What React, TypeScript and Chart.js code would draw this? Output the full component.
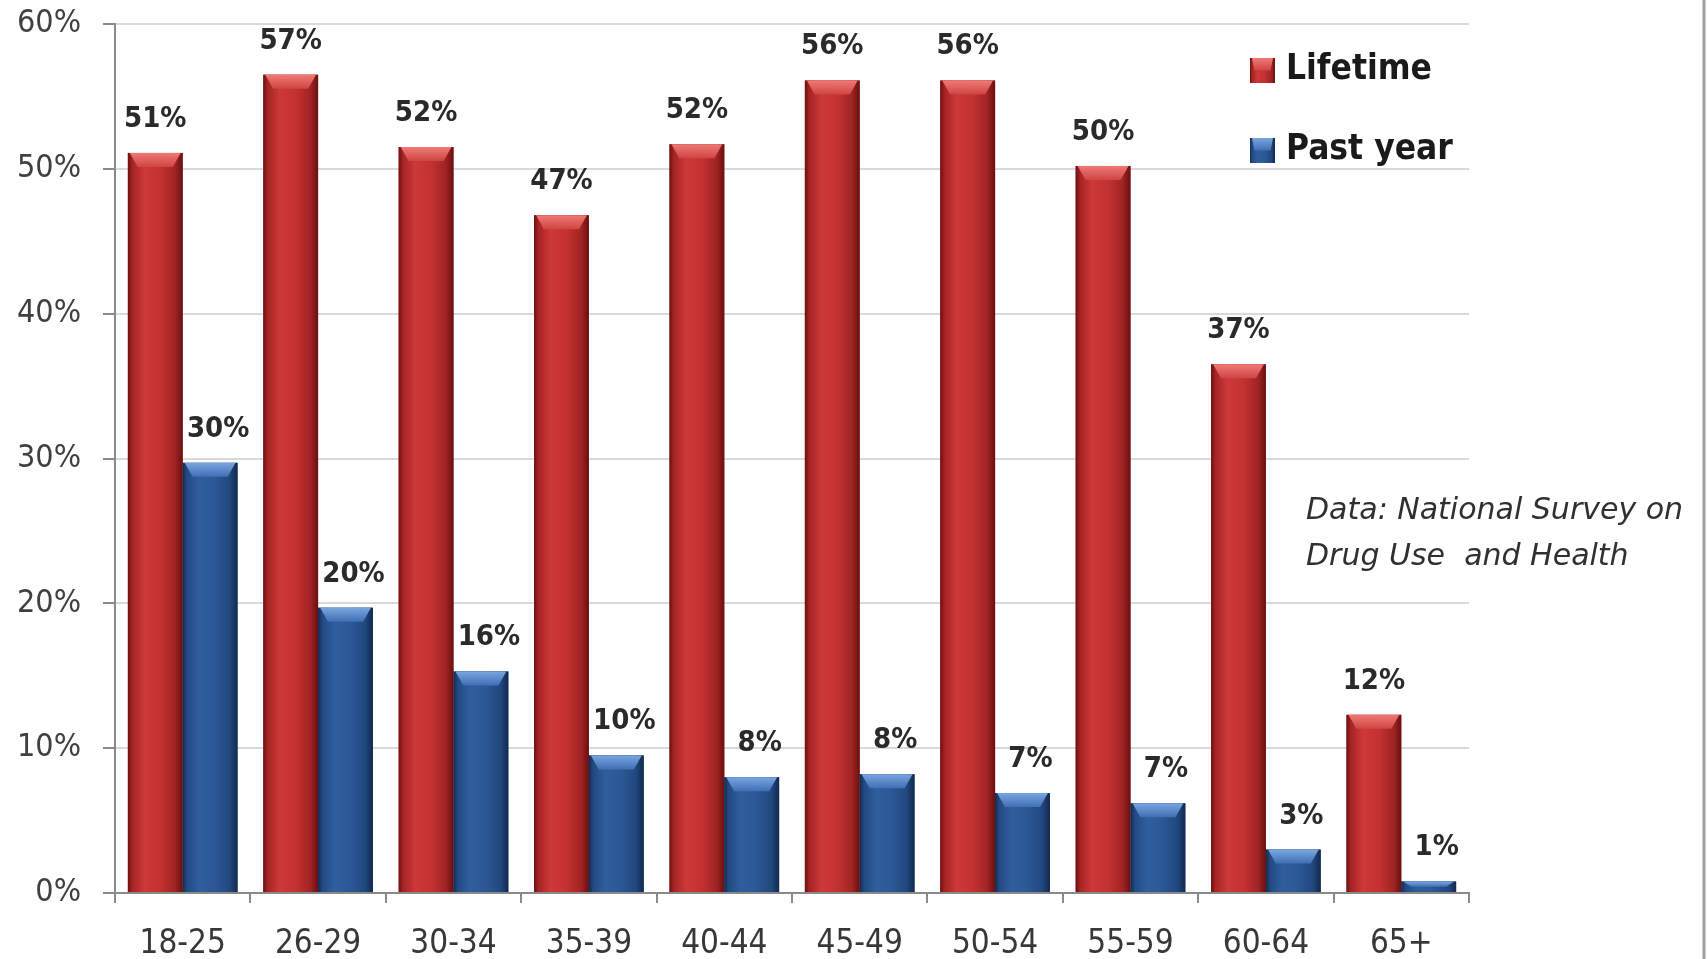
import React, { useEffect, useRef } from "react";
import { Chart, registerables } from "chart.js";

Chart.register(...registerables);

const categories = ["18-25", "26-29", "30-34", "35-39", "40-44", "45-49", "50-54", "55-59", "60-64", "65+"];
const lifetime = [51.1, 56.5, 51.5, 46.8, 51.7, 56.1, 56.1, 50.2, 36.5, 12.3];
const pastYear = [29.7, 19.7, 15.3, 9.5, 8.0, 8.2, 6.9, 6.2, 3.0, 0.8];
const lifetimeLabels = ["51%", "57%", "52%", "47%", "52%", "56%", "56%", "50%", "37%", "12%"];
const pastYearLabels = ["30%", "20%", "16%", "10%", "8%", "8%", "7%", "7%", "3%", "1%"];
const seriesNames = ["Lifetime", "Past year"];
const yTicks = [0, 10, 20, 30, 40, 50, 60];
const noteLines = ["Data: National Survey on", "Drug Use  and Health"];

const FONT = "'DejaVu Sans Condensed', 'DejaVu Sans', sans-serif";

const palettes = [
  {
    base: "#c03030",
    body: [
      [0, "#6a1010"],
      [0.08, "#a52424"],
      [0.3, "#cd3838"],
      [0.6, "#c33131"],
      [0.86, "#a02323"],
      [1, "#681010"],
    ],
    bevelTop: "#ee7a76",
    bevelBottom: "#cf4543",
  },
  {
    base: "#2c5896",
    body: [
      [0, "#132b50"],
      [0.08, "#224a83"],
      [0.3, "#2f5e9e"],
      [0.6, "#2b5795"],
      [0.86, "#21477e"],
      [1, "#12294d"],
    ],
    bevelTop: "#7aa6e0",
    bevelBottom: "#3f70b4",
  },
];

const labelSets = [lifetimeLabels, pastYearLabels];

function paintBar(ctx: CanvasRenderingContext2D, left: number, right: number, top: number, bottom: number, p: any) {
  const w = right - left;
  const g = ctx.createLinearGradient(left, 0, right, 0);
  p.body.forEach((s: any) => g.addColorStop(s[0], s[1]));
  ctx.fillStyle = g;
  ctx.fillRect(left, top, w, bottom - top);
  const bh = Math.min(14, (bottom - top) / 2);
  const inset = Math.min(10, w * 0.18);
  const bg = ctx.createLinearGradient(0, top, 0, top + bh);
  bg.addColorStop(0, p.bevelTop);
  bg.addColorStop(1, p.bevelBottom);
  ctx.fillStyle = bg;
  ctx.beginPath();
  ctx.moveTo(left + 2, top);
  ctx.lineTo(right - 2, top);
  ctx.lineTo(right - inset, top + bh);
  ctx.lineTo(left + inset, top + bh);
  ctx.closePath();
  ctx.fill();
}

const decorPlugin = {
  id: "decor",
  afterDatasetsDraw(chart: any) {
    const ctx: CanvasRenderingContext2D = chart.ctx;
    ctx.save();
    chart.data.datasets.forEach((ds: any, di: number) => {
      const meta = chart.getDatasetMeta(di);
      meta.data.forEach((el: any) => {
        const { x, y, base, width } = el.getProps(["x", "y", "base", "width"], true);
        paintBar(ctx, x - width / 2, x + width / 2, y, base, palettes[di]);
      });
    });
    // value labels
    ctx.fillStyle = "#2a2a2a";
    ctx.font = `bold 29px ${FONT}`;
    ctx.textAlign = "center";
    ctx.textBaseline = "alphabetic";
    chart.data.datasets.forEach((ds: any, di: number) => {
      const meta = chart.getDatasetMeta(di);
      meta.data.forEach((el: any, i: number) => {
        const { x, y } = el.getProps(["x", "y"], true);
        ctx.fillText(labelSets[di][i], x + (di === 1 ? 8 : 0), y - 26);
      });
    });
    // legend
    const lx = 1250;
    const rows = [70, 150];
    chart.data.datasets.forEach((ds: any, di: number) => {
      const cy = rows[di];
      paintBar(ctx, lx, lx + 25, cy - 12, cy + 13, palettes[di]);
      ctx.fillStyle = "#1a1a1a";
      ctx.font = `bold 35px ${FONT}`;
      ctx.textAlign = "left";
      ctx.textBaseline = "middle";
      ctx.fillText(ds.label, lx + 36, cy);
    });
    // source note
    ctx.fillStyle = "#303030";
    ctx.font = `italic 30px 'DejaVu Sans', sans-serif`;
    ctx.textAlign = "left";
    ctx.textBaseline = "middle";
    noteLines.forEach((t, k) => ctx.fillText(t, 1306, 511 + k * 46));
    // right frame edge
    ctx.strokeStyle = "#a0a0a0";
    ctx.lineWidth = 3;
    ctx.beginPath();
    ctx.moveTo(1704, 0);
    ctx.lineTo(1704, 959);
    ctx.stroke();
    ctx.restore();
  },
};

export default function App() {
  const ref = useRef<HTMLCanvasElement | null>(null);
  useEffect(() => {
    document.body.style.margin = "0";
    const chart = new Chart(ref.current as HTMLCanvasElement, {
      type: "bar",
      data: {
        labels: categories,
        datasets: [
          { label: seriesNames[0], data: lifetime, backgroundColor: palettes[0].base },
          { label: seriesNames[1], data: pastYear, backgroundColor: palettes[1].base },
        ],
      },
      options: {
        responsive: false,
        animation: false,
        events: [],
        layout: { padding: { top: 24, right: 238, left: 0, bottom: 0 } },
        datasets: { bar: { categoryPercentage: 0.81, barPercentage: 1.0 } },
        plugins: { legend: { display: false }, tooltip: { enabled: false } },
        scales: {
          x: {
            offset: true,
            grid: { display: true, drawOnChartArea: false, drawTicks: true, tickLength: 10, tickColor: "#8a8a8a", lineWidth: 2, offset: true },
            border: { display: true, color: "#8a8a8a", width: 2 },
            ticks: { color: "#383838", font: { family: FONT, size: 33 }, padding: 22 },
            afterFit: (s: any) => {
              s.height = 66;
              s.paddingLeft = 0;
              s.paddingRight = 0;
            },
          },
          y: {
            min: 0,
            max: 60,
            afterBuildTicks: (s: any) => {
              s.ticks = yTicks.map((v) => ({ value: v }));
            },
            grid: { color: "#d9d9d9", lineWidth: 2, tickLength: 12, tickColor: "#8a8a8a", drawTicks: true },
            border: { display: true, color: "#8a8a8a", width: 2 },
            ticks: {
              color: "#404040",
              font: { family: FONT, size: 32 },
              padding: 22,
              callback: (v: any) => `${v}%`,
            },
            afterFit: (s: any) => {
              s.width = 115;
              s.paddingTop = 0;
              s.paddingBottom = 0;
            },
          },
        },
      },
      plugins: [decorPlugin],
    });
    return () => chart.destroy();
  }, []);
  return (
    <div style={{ width: 1707, height: 959, position: "relative", background: "#ffffff" }}>
      <canvas ref={ref} width={1707} height={959} style={{ display: "block", width: 1707, height: 959 }} />
    </div>
  );
}
